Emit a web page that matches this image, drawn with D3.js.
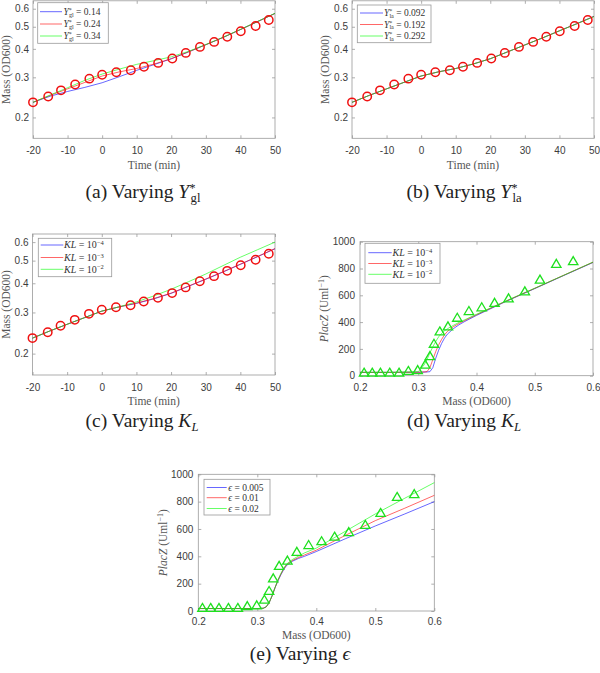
<!DOCTYPE html>
<html><head><meta charset="utf-8">
<script src="https://cdn.jsdelivr.net/npm/d3@7"></script>
<style>body{margin:0;background:#fff}svg{display:block}</style>
</head><body>
<script>
// ---------- DATA ----------
const tCircle = [-20,-15.6,-11.9,-7.8,-3.7,0,4.1,8.3,12.1,16.2,20.3,24.2,28.3,32.4,36.2,40.1,44.4,48.2];
const massCircle = [0.233,0.247,0.263,0.279,0.296,0.308,0.316,0.322,0.334,0.347,0.363,0.384,0.408,0.429,0.452,0.478,0.504,0.535];
const tLine = [-20,-15,-10,-5,0,5,10,15,20,25,30,35,40,45,50];
// (a) varying Y*gl
const aBlue  = [0.233,0.248,0.260,0.271,0.284,0.302,0.322,0.341,0.362,0.388,0.417,0.449,0.486,0.527,0.572];
const aRed   = [0.233,0.250,0.267,0.285,0.304,0.317,0.328,0.343,0.362,0.388,0.417,0.449,0.486,0.527,0.572];
const aGreen = [0.233,0.251,0.270,0.291,0.310,0.326,0.342,0.355,0.369,0.390,0.418,0.450,0.487,0.528,0.573];
// (b) varying Y*la
const bBlue  = [0.233,0.250,0.267,0.285,0.304,0.317,0.328,0.343,0.362,0.388,0.416,0.446,0.480,0.516,0.556];
const bRed   = [0.233,0.250,0.267,0.285,0.304,0.317,0.328,0.343,0.362,0.388,0.416,0.446,0.480,0.515,0.555];
const bGreen = [0.233,0.250,0.267,0.285,0.304,0.317,0.328,0.343,0.362,0.388,0.416,0.446,0.480,0.515,0.554];
// (c) varying KL
const cBlue  = [0.233,0.250,0.267,0.285,0.304,0.317,0.328,0.343,0.362,0.388,0.416,0.447,0.482,0.520,0.562];
const cRed   = [0.233,0.250,0.267,0.285,0.304,0.317,0.329,0.344,0.363,0.389,0.417,0.448,0.483,0.521,0.563];
const cGreen = [0.233,0.250,0.267,0.285,0.304,0.317,0.333,0.353,0.377,0.406,0.438,0.476,0.517,0.557,0.600];
// PlacZ data (triangles)
const placMass = [0.207,0.221,0.235,0.251,0.267,0.283,0.299,0.312,0.320,0.327,0.337,0.351,0.367,0.387,0.409,0.431,0.455,0.483,0.509,0.537,0.566];
const placVal  = [24,24,24,24,24,37,43,84,148,240,332,370,434,484,512,545,579,631,719,836,857];
const mLine = [0.20,0.25,0.30,0.31,0.315,0.32,0.325,0.33,0.335,0.34,0.345,0.35,0.36,0.37,0.38,0.40,0.45,0.50,0.55,0.60];
// (d) varying KL
const dBlue  = [25,25,26,27,28,30,60,130,190,240,280,310,350,380,405,450,553,650,748,845];
const dRed   = [25,25,26,28,30,60,120,180,230,270,305,330,365,390,412,455,555,652,750,847];
const dGreen = [25,25,30,80,120,170,215,255,290,315,335,350,375,398,418,458,557,653,750,848];
// (e) varying epsilon
const eBlue  = [18,18,18,20,30,60,110,170,220,265,305,335,365,385,400,435,530,622,710,800];
const eRed   = [18,18,18,20,30,60,110,170,225,270,310,340,370,392,410,445,555,661,752,846];
const eGreen = [18,18,18,20,30,60,112,172,228,275,315,345,378,402,425,460,585,710,825,939];
// ticks
const timeTicks = [-20,-10,0,10,20,30,40,50];
const massTicks = [0.2,0.3,0.4,0.5,0.6];
const placTicks = [0,200,400,600,800,1000];

// ---------- DRAW ----------
const COLORS = {blue:"#0000ff", red:"#ff0000", green:"#00ff00"};
const svg = d3.select("body").append("svg").attr("width",600).attr("height",673);
svg.append("rect").attr("width",600).attr("height",673).attr("fill","#fff");

const SERIF = "'Liberation Serif','Times New Roman',serif";
const SANS = "'Liberation Sans',Arial,sans-serif";

function mathText(parent, x, y, parts, size, opts={}) {
  const t = parent.append("text").attr("x",x).attr("y",y)
    .attr("font-family",SERIF).attr("font-size",size).attr("fill",opts.fill||"#222");
  if (opts.anchor) t.attr("text-anchor",opts.anchor);
  if (opts.rotate) t.attr("transform",`rotate(-90,${x},${y})`);
  const supK = opts.supK || 0.38, subK = opts.subK || 0.25, scK = opts.scK || 0.7;
  let cur = 0;
  parts.forEach(p => {
    const pos = p.pos||"base";
    const target = pos==="sup" ? -supK*size : pos==="sub" ? subK*size : 0;
    const s = t.append("tspan").text(p.t).attr("dy", target-cur);
    cur = target;
    if (pos!=="base") s.attr("font-size", size*scK);
    if (p.i) s.attr("font-style","italic");
    if (p.dx!==undefined) s.attr("dx",p.dx);
  });
  return t;
}

function panel(cfg) {
  const g = svg.append("g");
  const x = d3.scaleLinear().domain(cfg.xDomain).range([cfg.left,cfg.right]);
  const y = (cfg.log ? d3.scaleLog() : d3.scaleLinear()).domain(cfg.yDomain).range([cfg.bottom,cfg.top]);
  const styleAxis = (sel) => {
    sel.select(".domain").remove();
    sel.selectAll(".tick line").attr("stroke","#9a9a9a").attr("stroke-width",0.8);
    sel.selectAll(".tick text").attr("font-family",SANS).attr("font-size",10).attr("fill","#3c3c3c");
  };
  g.append("g").attr("transform",`translate(0,${cfg.bottom})`)
    .call(d3.axisBottom(x).tickValues(cfg.xTicks).tickFormat(cfg.xFmt).tickSizeInner(-3).tickSizeOuter(0).tickPadding(cfg.xPad)).call(styleAxis);
  g.append("g").attr("transform",`translate(0,${cfg.top})`)
    .call(d3.axisTop(x).tickValues(cfg.xTicks).tickFormat("").tickSizeInner(-3).tickSizeOuter(0)).call(styleAxis);
  g.append("g").attr("transform",`translate(${cfg.left},0)`)
    .call(d3.axisLeft(y).tickValues(cfg.yTicks).tickFormat(cfg.yFmt).tickSizeInner(-3).tickSizeOuter(0).tickPadding(cfg.yPad)).call(styleAxis);
  g.append("g").attr("transform",`translate(${cfg.right},0)`)
    .call(d3.axisRight(y).tickValues(cfg.yTicks).tickFormat("").tickSizeInner(-3).tickSizeOuter(0)).call(styleAxis);
  g.append("rect").attr("x",cfg.left).attr("y",cfg.top).attr("width",cfg.right-cfg.left).attr("height",cfg.bottom-cfg.top)
    .attr("fill","none").attr("stroke","#9a9a9a").attr("stroke-width",0.8);

  const line = d3.line().x(d=>x(d[0])).y(d=>y(d[1]));
  cfg.series.forEach(s => {
    g.append("path").datum(cfg.lineX.map((v,i)=>[v,s.values[i]]))
      .attr("d",line).attr("fill","none").attr("stroke",COLORS[s.color]).attr("stroke-width",0.8).attr("stroke-opacity",0.75);
  });
  const pts = cfg.ptsX.map((v,i)=>[v,cfg.ptsY[i]]);
  if (cfg.marker==="circle") {
    g.selectAll("circle.m").data(pts).join("circle").attr("class","m")
      .attr("cx",d=>x(d[0])).attr("cy",d=>y(d[1])).attr("r",4.2)
      .attr("fill","none").attr("stroke","#f01010").attr("stroke-width",1.5);
  } else {
    g.selectAll("path.m").data(pts).join("path").attr("class","m")
      .attr("transform",d=>`translate(${x(d[0])},${y(d[1])})`)
      .attr("d","M0,-4.3L4.7,3.7L-4.7,3.7Z")
      .attr("fill","none").attr("stroke","#1ee01e").attr("stroke-width",1.3);
  }
  // legend
  const L = cfg.legend;
  g.append("rect").attr("x",L.x0).attr("y",L.y0).attr("width",L.x1-L.x0).attr("height",L.y1-L.y0)
    .attr("fill","#fff").attr("stroke","#9a9a9a").attr("stroke-width",0.8);
  cfg.series.forEach((s,i) => {
    const ry = L.rows[i];
    g.append("line").attr("x1",L.lx0).attr("x2",L.lx1).attr("y1",ry).attr("y2",ry)
      .attr("stroke",COLORS[s.color]).attr("stroke-width",0.8).attr("stroke-opacity",0.75);
    mathText(g, L.tx, ry+3.2, s.label, L.size, {fill:"#333", supK:0.32, subK:0.18, scK:0.65});
  });
  // axis labels
  mathText(g, (cfg.left+cfg.right)/2, cfg.xLabelY, cfg.xLabel, 11.5, {anchor:"middle", fill:"#555"});
  mathText(g, cfg.yLabelX, (cfg.top+cfg.bottom)/2, cfg.yLabel, 11.5, {anchor:"middle", fill:"#555", rotate:true});
  // caption
  mathText(g, cfg.capX, cfg.capY, cfg.caption, 19.5, {anchor:"middle", fill:"#222", supK:0.32, subK:0.2, scK:0.65});
}

const yLbl = (sub,val)=>[{t:"Y",i:true},{t:"*",pos:"sup"},{t:sub,pos:"sub",dx:-3},{t:" = "+val}];
const klLbl = (e)=>[{t:"KL",i:true},{t:" = 10"},{t:e,pos:"sup"}];
const epsLbl = (v)=>[{t:"ϵ",i:true},{t:" = "+v}];
const massLabel = [{t:"Mass (OD600)"}];
const placLabel = [{t:"PlacZ",i:true},{t:" (Uml"},{t:"−1",pos:"sup"},{t:")"}];
const fmt1 = d3.format(".1f");
const fmtInt = d=>String(d);

const timeCommon = {xDomain:[-20,50], xTicks:timeTicks, xFmt:fmtInt, log:true, yDomain:[0.162,0.65], yTicks:massTicks, yFmt:fmt1, yPad:4, xPad:8.5,
  lineX:tLine, ptsX:tCircle, ptsY:massCircle, marker:"circle", xLabel:[{t:"Time (min)"}], yLabel:massLabel};
const placCommon = {xDomain:[0.2,0.6], xTicks:massTicks, xFmt:fmt1, log:false, yDomain:[0,1000], yTicks:placTicks, yFmt:fmtInt, yPad:5, xPad:8.5,
  lineX:mLine, ptsX:placMass, ptsY:placVal, marker:"tri", xLabel:massLabel, yLabel:placLabel};

panel(Object.assign({}, timeCommon, {left:33, right:275, top:0.8, bottom:138.3, xLabelY:169, yLabelX:10,
  capX:143, capY:198,
  caption:[{t:"(a) Varying "},{t:"Y",i:true},{t:"*",pos:"sup"},{t:"gl",pos:"sub",dx:-5}],
  series:[{color:"blue",values:aBlue,label:yLbl("gl","0.14")},{color:"red",values:aRed,label:yLbl("gl","0.24")},{color:"green",values:aGreen,label:yLbl("gl","0.34")}],
  legend:{x0:37.7,y0:2.7,x1:108.3,y1:43.3,lx0:40,lx1:62,tx:63.5,rows:[11.7,24,36],size:9.5}}));

panel(Object.assign({}, timeCommon, {left:352, right:594, top:0.8, bottom:138.3, xLabelY:169, yLabelX:329,
  capX:464, capY:198,
  caption:[{t:"(b) Varying "},{t:"Y",i:true},{t:"*",pos:"sup"},{t:"la",pos:"sub",dx:-5}],
  series:[{color:"blue",values:bBlue,label:yLbl("la","0.092")},{color:"red",values:bRed,label:yLbl("la","0.192")},{color:"green",values:bGreen,label:yLbl("la","0.292")}],
  legend:{x0:357.3,y0:5,x1:431,y1:42.7,lx0:360,lx1:383,tx:384,rows:[13,24.5,36],size:9.5}}));

panel(Object.assign({}, timeCommon, {left:32.5, right:275, top:234, bottom:375, xLabelY:405, yLabelX:10,
  capX:142, capY:427,
  caption:[{t:"(c) Varying "},{t:"K",i:true},{t:"L",i:true,pos:"sub"}],
  series:[{color:"blue",values:cBlue,label:klLbl("−4")},{color:"red",values:cRed,label:klLbl("−3")},{color:"green",values:cGreen,label:klLbl("−2")}],
  legend:{x0:38.3,y0:238.3,x1:111.7,y1:276.7,lx0:40.7,lx1:63.3,tx:64,rows:[245,257.5,269.3],size:10}}));

panel(Object.assign({}, placCommon, {left:360, right:593, top:241.7, bottom:375.7, xLabelY:405, yLabelX:328,
  capX:464, capY:427,
  caption:[{t:"(d) Varying "},{t:"K",i:true},{t:"L",i:true,pos:"sub"}],
  series:[{color:"blue",values:dBlue,label:klLbl("−4")},{color:"red",values:dRed,label:klLbl("−3")},{color:"green",values:dGreen,label:klLbl("−2")}],
  legend:{x0:365,y0:243.3,x1:440,y1:283.3,lx0:368.3,lx1:391.7,tx:392.5,rows:[252.7,263.5,274.3],size:10}}));

panel(Object.assign({}, placCommon, {left:198.3, right:434.3, top:474.3, bottom:611, xLabelY:639, yLabelX:167, xPad:6.5,
  capX:300, capY:660,
  caption:[{t:"(e) Varying "},{t:"ϵ",i:true}],
  series:[{color:"blue",values:eBlue,label:epsLbl("0.005")},{color:"red",values:eRed,label:epsLbl("0.01")},{color:"green",values:eGreen,label:epsLbl("0.02")}],
  legend:{x0:204,y0:479.3,x1:270,y1:515,lx0:206.7,lx1:226.7,tx:228.3,rows:[487.5,497.7,508.5],size:9.5}}));
</script>
</body></html>
